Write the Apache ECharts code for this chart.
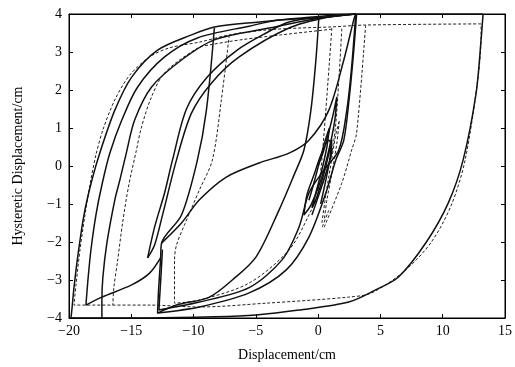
<!DOCTYPE html>
<html>
<head>
<meta charset="utf-8">
<script src="https://cdn.jsdelivr.net/npm/echarts@6/dist/echarts.min.js"></script>
<style>
  html, body { margin: 0; padding: 0; background: #fff; }
  #chart { width: 515px; height: 367px; }
</style>
</head>
<body>
<div id="chart"></div>
<script>
  // axis ranges
  const xRange = [-20, 15];
  const yRange = [-4, 4];

  // solid curves (displacement, hysteretic displacement)
  const solidOuter = [
    [13.24, 4], [8, 4], [3, 4], [-0.5, 3.92], [-4.7, 3.79], [-8.33, 3.66], [-10.17, 3.45],
    [-12.89, 3.05], [-14.97, 2.34], [-16.32, 1.47], [-17.45, 0.42], [-18.16, -0.37],
    [-18.8, -1.29], [-19.28, -2.34], [-19.6, -3.2], [-19.76, -3.75], [-19.84, -4],
    [-13.53, -4], [-8.33, -3.97], [-4.98, -3.92], [-1.54, -3.79], [2.45, -3.58],
    [4.61, -3.26], [6.45, -2.92], [8.69, -2.0], [10.45, -0.97], [11.64, 0.16],
    [12.68, 1.92], [13.08, 3.32], [13.24, 4]
  ];
  const solidLoopB = [
    [3.0, 4], [0.06, 3.9], [-3.14, 3.84], [-5.54, 3.68], [-9.69, 3.37], [-12.33, 2.87],
    [-14.49, 2.08], [-15.76, 1.21], [-16.72, 0.34], [-17.36, -0.5], [-17.84, -1.29],
    [-18.24, -2.21], [-18.48, -3.0], [-18.64, -3.66], [-17.36, -3.45], [-14.97, -3.13],
    [-13.53, -2.82], [-12.65, -2.42]
  ];
  const solidLoopC = [
    [3.0, 4], [0.06, 3.89], [-3.94, 3.63], [-8.33, 3.32], [-10.97, 2.79], [-13.37, 2.08],
    [-14.73, 1.21], [-15.4, 0.34], [-15.92, -0.37], [-16.32, -0.89], [-16.96, -2.03],
    [-17.28, -2.92], [-17.36, -3.55], [-17.36, -4]
  ];
  const solidSteep = [
    [-8.33, 3.63], [-8.97, 1.47], [-9.69, 0.16], [-10.97, -1.29], [-12.57, -2.03],
    [-12.65, -2.47], [-12.81, -3.26], [-12.89, -3.87], [-11.37, -3.66], [-8.73, -3.45],
    [-6.89, -3.0], [-4.98, -2.39], [-3.14, -1.16], [-1.94, -0.24], [-1.14, 0.42],
    [-0.58, 1.47], [-0.18, 2.79], [0.06, 3.92]
  ];
  const solidSteepTwin = [
    [-12.5, -2.2], [-12.6, -2.8], [-12.73, -3.5], [-12.78, -3.79]
  ];
  const solidLensLeft = [
    [0.06, 3.92], [-2.34, 3.79], [-4.18, 3.5], [-6.5, 3.05], [-8.9, 2.34], [-10.57, 1.5],
    [-11.69, 0.16], [-12.33, -0.71], [-13.13, -1.61], [-13.69, -2.42]
  ];
  const solidLensRight = [
    [-13.69, -2.42], [-13.13, -2.08], [-12.5, -1.3], [-11.37, 0.16], [-10.17, 1.39],
    [-8.57, 2.18], [-6.34, 2.87], [-2.34, 3.63], [0.86, 3.92], [3.01, 4]
  ];
  const solidCross = [
    [-12.57, -2.03], [-10.97, -1.5], [-9.53, -0.89], [-7.37, -0.29], [-4.74, 0.08],
    [-2.34, 0.34], [-0.74, 0.68], [0.86, 1.47], [2.06, 2.79], [2.85, 3.84], [3.01, 4]
  ];
  const solidRise2 = [
    [-12.81, -3.79], [-9.53, -3.58], [-5.54, -3.2], [-2.9, -2.47], [-1.54, -1.61],
    [-0.74, -0.71], [0.46, -0.11], [1.66, 0.42], [2.3, 1.47], [2.69, 2.61], [3.01, 3.97]
  ];
  const solidRise3 = [
    [-12.89, -3.87], [-9.53, -3.71], [-5.54, -3.34], [-2.58, -2.74], [-0.74, -1.87],
    [0.62, -0.71], [1.42, 0.16], [2.06, 0.68], [2.5, 1.8], [2.85, 3.0], [3.09, 4]
  ];
  const solidSmall = [
    [-0.02, 0], [0.46, 0.42], [1.10, 1.21], [1.50, 1.82], [1.34, 1.21], [0.86, 0.42],
    [0.22, -0.37], [-0.58, -1.03], [-1.14, -1.29], [-0.90, -0.76], [-0.34, -0.24],
    [0.22, 0.29], [0.86, 0.68], [1.10, 0.42], [0.70, -0.11], [0.06, -0.76], [-0.50, -1.29]
  ];
  const solidSmall2 = [
    [-0.74, -0.9], [-0.3, -0.4], [0.1, 0.1], [0.5, 0.6], [0.9, 1.0], [0.7, 0.5],
    [0.3, -0.1], [-0.1, -0.6], [-0.5, -1.1], [-0.2, -0.9], [0.3, -0.4], [0.7, 0.1],
    [1.1, 0.7], [0.95, 0.2], [0.6, -0.4], [0.2, -1.0]
  ];

  // dashed curves
  const dashOuter = [
    [13.08, 3.74], [3.81, 3.71], [1.10, 3.66], [-1.54, 3.63], [-4.18, 3.58], [-7.13, 3.45],
    [-9.53, 3.26], [-11.93, 3.11], [-13.53, 2.87], [-15.13, 2.39], [-16.32, 1.74],
    [-17.28, 0.95], [-17.84, 0.29], [-18.32, -0.5], [-18.72, -1.29], [-19.12, -2.21],
    [-19.44, -3.13], [-19.6, -3.66], [-13.53, -3.66], [-9.53, -3.71], [-4.18, -3.61],
    [2.45, -3.45], [4.29, -3.34], [7.01, -2.74], [9.09, -2.0], [10.69, -1.03],
    [11.80, 0.16], [12.84, 2.34], [13.08, 3.45], [13.08, 3.74]
  ];
  const dashLoopB = [
    [1.1, 3.6], [-3, 3.45], [-6, 3.33], [-8.49, 3.2], [-9.69, 3.1], [-12.33, 2.45],
    [-13.4, 1.8], [-14.2, 1.0], [-14.6, 0.4], [-15.2, -0.5], [-15.7, -1.5], [-16.1, -2.5],
    [-16.4, -3.2], [-16.48, -3.66]
  ];
  const dashSteep = [
    [-7.13, 3.45], [-7.77, 1.74], [-8.49, 0.16], [-9.53, -0.63], [-10.73, -1.55],
    [-11.37, -2.08], [-11.53, -2.47], [-11.53, -3.61], [-9.53, -3.53], [-5.54, -3.08],
    [-2.34, -2.21], [-0.74, -1.29], [0.46, -0.37], [1.26, 0.68], [1.66, 2.26], [1.90, 3.63]
  ];
  const dashDropA = [[1.10, 3.63], [0.30, 0.16], [-0.10, -0.89]];
  const dashDropB = [[3.81, 3.71], [3.09, 0.87], [2.69, 0.42], [1.90, -0.45], [0.46, -1.63]];
  const dashDropC = [[0.86, -1.16], [0.30, -1.63]];
  const dashSmall = [
    [0.3, -1.5], [0.6, -0.8], [1.0, 0.0], [1.4, 0.8], [1.7, 1.2], [1.5, 0.6],
    [1.1, -0.2], [0.7, -0.9], [0.5, -1.4]
  ];

  const xTicks = [-20, -15, -10, -5, 0, 5, 10, 15];
  const yTicks = [-4, -3, -2, -1, 0, 1, 2, 3, 4];

  const solidCurves = [solidOuter, solidLoopB, solidLoopC, solidSteep, solidSteepTwin, solidLensLeft,
    solidLensRight, solidCross, solidRise2, solidRise3, solidSmall, solidSmall2];
  const dashedCurves = [dashOuter, dashLoopB, dashSteep, dashDropA, dashDropB, dashDropC, dashSmall];

  const chart = echarts.init(document.getElementById('chart'));

  const fmt = v => String(v).replace('-', '\u2212');
  const font = '"Liberation Serif", "DejaVu Serif", serif';

  const axisCommon = {
    type: 'value',
    axisLine: { show: true, onZero: false, lineStyle: { color: '#000', width: 1 } },
    axisTick: { show: true, inside: true, length: 4, lineStyle: { color: '#000' } },
    splitLine: { show: false },
  };

  const series = [];
  solidCurves.forEach(d => series.push({
    type: 'line', data: d, showSymbol: false, smooth: 0.3,
    lineStyle: { color: '#111', width: 1.5 }, z: 3,
  }));
  dashedCurves.forEach(d => series.push({
    type: 'line', data: d, showSymbol: false, smooth: 0.3,
    lineStyle: { color: '#222', width: 1, type: [3, 2] }, z: 2,
  }));

  chart.setOption({
    animation: false,
    backgroundColor: '#fff',
    grid: { left: 69, right: 8, top: 14, bottom: 49, show: true, borderColor: '#000', borderWidth: 1 },
    xAxis: [
      {
        ...axisCommon, position: 'bottom', min: xRange[0], max: xRange[1], interval: 5,
        name: 'Displacement/cm', nameLocation: 'middle', nameGap: 30,
        nameTextStyle: { fontFamily: font, fontSize: 14, color: '#000' },
        axisLabel: { fontFamily: font, fontSize: 14, color: '#000', margin: 6, formatter: fmt },
      },
      {
        ...axisCommon, position: 'top', min: xRange[0], max: xRange[1], interval: 5,
        axisLabel: { show: false },
      },
    ],
    yAxis: [
      {
        ...axisCommon, position: 'left', min: yRange[0], max: yRange[1], interval: 1,
        name: 'Hysteretic Displacement/cm', nameLocation: 'middle', nameGap: 44,
        nameTextStyle: { fontFamily: font, fontSize: 14, color: '#000' },
        axisLabel: { fontFamily: font, fontSize: 14, color: '#000', margin: 7, formatter: fmt },
      },
      {
        ...axisCommon, position: 'right', min: yRange[0], max: yRange[1], interval: 1,
        axisLabel: { show: false },
      },
    ],
    series,
  });
</script>
</body>
</html>
